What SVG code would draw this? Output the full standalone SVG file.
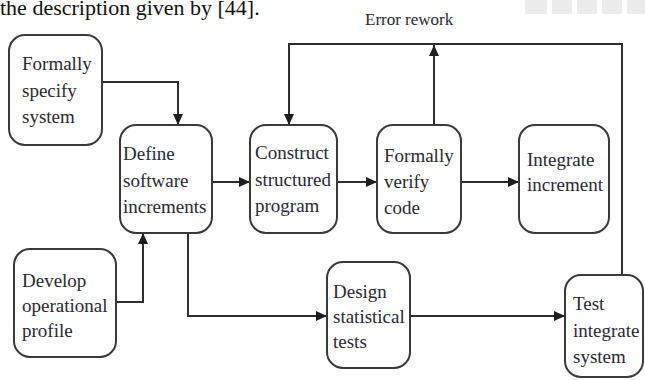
<svg xmlns="http://www.w3.org/2000/svg" width="645" height="380" viewBox="0 0 645 380">
<style>
.box{fill:#fff;stroke:#3a3a3a;stroke-width:2}
.con{fill:none;stroke:#2e2e2e;stroke-width:2}
.lbl{font-family:'Liberation Serif','Times New Roman',serif;fill:#2a2a35;font-size:19px}
.err{font-family:'Liberation Serif','Times New Roman',serif;fill:#2a2a35;font-size:17px}
.hdr{font-family:'Liberation Serif','Times New Roman',serif;fill:#111;font-size:22px}
</style>
<defs>
<marker id="ah" markerUnits="userSpaceOnUse" markerWidth="12" markerHeight="10" refX="11" refY="5" orient="auto">
<path d="M0,0 L11,5 L0,10 Z" fill="#1e1e1e"/>
</marker>
</defs>
<rect width="645" height="380" fill="#fff"/>
<text class="hdr" x="0" y="15">the description given by [44].</text>
<g id="blur" fill="#ececec">
<rect x="525" y="0" width="22" height="14"/>
<rect x="552" y="0" width="20" height="14"/>
<rect x="577" y="0" width="20" height="14"/>
<rect x="602" y="0" width="20" height="14"/>
<rect x="627" y="0" width="18" height="14"/>
</g>
<g id="connectors">
<path class="con" d="M102 82 H178 V125" marker-end="url(#ah)"/>
<path class="con" d="M116 302 H143 V233" marker-end="url(#ah)"/>
<path class="con" d="M212 182 H250" marker-end="url(#ah)"/>
<path class="con" d="M337 182 H377" marker-end="url(#ah)"/>
<path class="con" d="M461 182 H519" marker-end="url(#ah)"/>
<path class="con" d="M188 233 V316 H327" marker-end="url(#ah)"/>
<path class="con" d="M410 316 H565" marker-end="url(#ah)"/>
<path class="con" d="M622 275 V44 H289 V125" marker-end="url(#ah)"/>
<path class="con" d="M434 125 V45" marker-end="url(#ah)"/>
<text class="err" x="365" y="25">Error rework</text>
</g>
<g id="formally-specify">
<rect class="box" x="9" y="35" width="93" height="110" rx="16"/>
<text class="lbl" x="22" y="70">Formally</text>
<text class="lbl" x="22" y="97">specify</text>
<text class="lbl" x="22" y="123">system</text>
</g>
<g id="define">
<rect class="box" x="120" y="125" width="92" height="108" rx="16"/>
<text class="lbl" x="123" y="160">Define</text>
<text class="lbl" x="123" y="187">software</text>
<text class="lbl" x="123" y="213">increments</text>
</g>
<g id="construct">
<rect class="box" x="250" y="125" width="87" height="108" rx="16"/>
<text class="lbl" x="255" y="159">Construct</text>
<text class="lbl" x="255" y="186">structured</text>
<text class="lbl" x="255" y="212">program</text>
</g>
<g id="verify">
<rect class="box" x="377" y="125" width="84" height="108" rx="16"/>
<text class="lbl" x="384" y="162">Formally</text>
<text class="lbl" x="384" y="188">verify</text>
<text class="lbl" x="384" y="214">code</text>
</g>
<g id="integrate">
<rect class="box" x="519" y="125" width="90" height="108" rx="16"/>
<text class="lbl" x="527" y="166">Integrate</text>
<text class="lbl" x="527" y="191">increment</text>
</g>
<g id="develop">
<rect class="box" x="14" y="249" width="102" height="108" rx="16"/>
<text class="lbl" x="22" y="287">Develop</text>
<text class="lbl" x="22" y="312">operational</text>
<text class="lbl" x="22" y="337">profile</text>
</g>
<g id="design">
<rect class="box" x="327" y="262" width="83" height="106" rx="16"/>
<text class="lbl" x="333" y="298">Design</text>
<text class="lbl" x="333" y="323">statistical</text>
<text class="lbl" x="333" y="348">tests</text>
</g>
<g id="test">
<rect class="box" x="565" y="275" width="78" height="102" rx="16"/>
<text class="lbl" x="573" y="310">Test</text>
<text class="lbl" x="573" y="337">integrate</text>
<text class="lbl" x="573" y="363">system</text>
</g>
</svg>
